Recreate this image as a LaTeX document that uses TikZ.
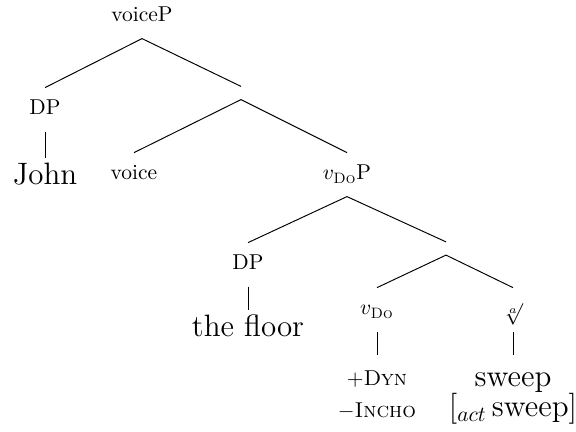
\documentclass[tikz,border=0pt]{standalone}
\usepackage{amsmath}
\usepackage{amssymb}
\usepackage{tikz}
\usetikzlibrary{positioning}

\begin{document}
\begin{tikzpicture}[x=0.4651pt,y=-0.4651pt]
    \tikzstyle{every path}=[draw=black,line width=0.45pt]
    \tikzstyle{lab}=[inner xsep=1pt,inner ysep=4pt,text height=8.5pt,text depth=3.5pt,anchor=base]
    \tikzstyle{word}=[font=\Large,inner xsep=1pt,inner ysep=2.5pt,text height=10pt,text depth=3pt,anchor=base]
    \tikzstyle{bar}=[inner sep=0pt,minimum width=0pt,minimum height=5.7pt]
    \tikzstyle{stack}=[align=center,anchor=north,inner xsep=1pt,inner ysep=7pt]

   \path[draw=none,use as bounding box] (0,0) rectangle (576,432);

   \node[lab] (voiceP) at (142,22) {voiceP};
   \node[lab] (dp1) at (45,115) {DP};
   \node[word] (john) at (45,185) {John};
   \node[bar] (bar1) at (241,93) {};
   \node[lab] (voice) at (134,180) {voice};
   \node[lab] (vdoP) at (347,180) {$v_{\textsc{Do}}$P};

   \node[lab] (dp2) at (248,270) {DP};
   \node[word] (floor) at (248,337) {the floor};
   \node[bar] (bar2) at (446,248.5) {};
   \node[lab] (vdo) at (377,315) {$v_{\textsc{Do}}$};
   \node[lab] (root) at (513,315) {$\sqrt[a]{}$};

   % feature bundle and the root's two lines
   \node[stack] (feat) at (377,355) {$+$\textsc{Dyn}\\[3pt]$-$\textsc{Incho}};
   \node[stack,font=\Large,inner ysep=8pt] (sweep) at (513,355) {sweep\\[-4pt]$[_{act}$\,sweep$]$};

   \draw (voiceP.south) -- (dp1.north);
   \draw (voiceP.south) -- (bar1.north);
   \draw (dp1.south) -- (john.north);
   \draw (bar1.south) -- (voice.north);
   \draw (bar1.south) -- (vdoP.north);
   \draw (vdoP.south) -- (dp2.north);
   \draw (vdoP.south) -- (bar2.north);
   \draw (dp2.south) -- (floor.north);
   \draw (bar2.south) -- (vdo.north);
   \draw (bar2.south) -- (root.north);
   \draw (vdo.south) -- (feat.north);
   \draw (root.south) -- (sweep.north);

  \end{tikzpicture}
\end{document}
